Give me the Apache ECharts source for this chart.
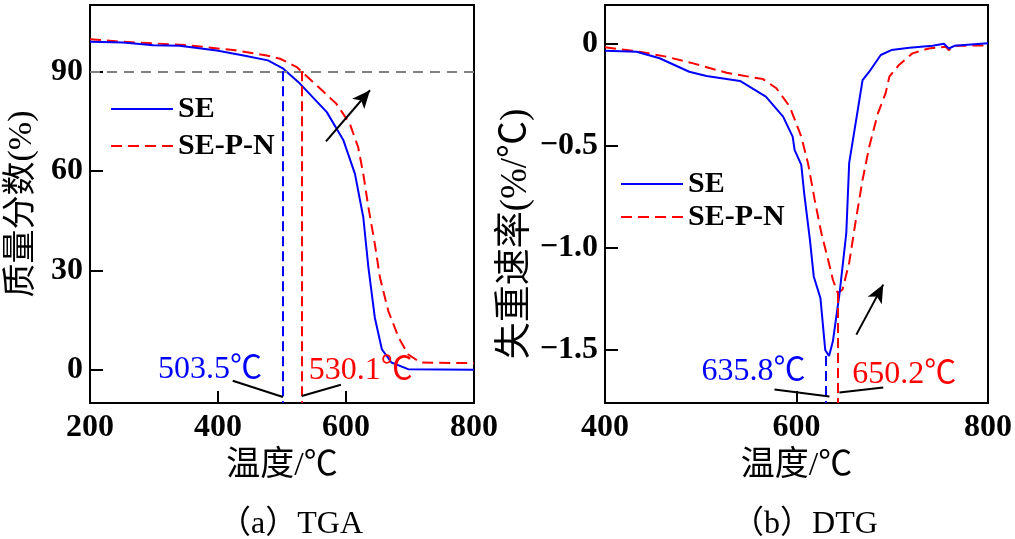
<!DOCTYPE html>
<html>
<head>
<meta charset="utf-8">
<script src="https://cdn.jsdelivr.net/npm/echarts@6/dist/echarts.min.js"></script>
<style>html,body{margin:0;padding:0;background:#fff}#c{width:1015px;height:539px}</style>
</head>
<body>
<div id="c"></div>
<script>
// ---- TGA (left) ----
const tgaSE = [[200,98.9],[252,98.7],[299,97.9],[340,97.7],[398,96.3],[440,94.8],[478,93.3],[502,90.8],[528,86.3],[570,77.7],[596,69.2],[614,59.1],[627,46.0],[635,30.9],[645,15.8],[656,6.2],[671,2.2],[697,0.2],[800,0]];
const tgaSEPN = [[200,99.7],[252,98.9],[351,97.9],[424,96.4],[476,94.8],[497,93.8],[523,91.3],[554,85.8],[585,80.2],[606,74.2],[619,67.1],[627,59.1],[635,49.0],[645,38.0],[653,27.9],[666,17.8],[682,9.8],[697,4.7],[716,2.2],[800,2.0]];
const tgaYTicks = [0,30,60,90];
const tgaXTicks = [200,400,600,800];
const tgaMarks = {se:501, sepn:530.6, level:90};
const tgaLabels = ['503.5℃','530.1℃'];

// ---- DTG (right) ----
const dtgSE = [[400,-0.034],[433,-0.039],[457,-0.071],[488,-0.137],[506,-0.158],[541,-0.182],[568,-0.259],[586,-0.357],[596,-0.455],[598,-0.52],[605,-0.593],[608,-0.732],[614,-0.96],[618,-1.14],[625,-1.246],[630,-1.5],[634,-1.53],[638,-1.458],[645,-1.221],[652,-0.928],[655,-0.585],[664,-0.324],[669,-0.178],[676,-0.137],[688,-0.055],[699,-0.031],[718,-0.02],[742,-0.01],[754,0],[759,-0.023],[765,-0.01],[800,0.002]];
const dtgSEPN = [[400,-0.017],[436,-0.039],[464,-0.063],[492,-0.096],[527,-0.142],[565,-0.173],[579,-0.218],[593,-0.308],[605,-0.455],[612,-0.585],[619,-0.765],[626,-0.928],[633,-1.058],[638,-1.156],[643,-1.221],[648,-1.205],[655,-1.074],[662,-0.863],[669,-0.667],[676,-0.504],[685,-0.341],[693,-0.243],[697,-0.161],[707,-0.104],[721,-0.047],[738,-0.023],[756,-0.015],[759,-0.031],[766,-0.01],[800,-0.008]];
const dtgYTicks = [0,-0.5,-1.0,-1.5];
const dtgXTicks = [400,600,800];
const dtgMarks = {se:[630.5,-1.53], sepn:[643.5,-1.221]};
const dtgLabels = ['635.8℃','650.2℃'];

const FONT = "'Liberation Serif','Noto Sans CJK SC',serif";
const BLUE = '#0000ff', RED = '#ff0000';

function yAxisBase(min, max, ticks, fmt, name, gap, pad, nsize){
  return {
    type:'value', min:min, max:max,
    splitLine:{show:false},
    axisLine:{show:true, onZero:false, lineStyle:{color:'#000', width:2}},
    axisTick:{show:true, inside:true, length:13, lineStyle:{color:'#000', width:2}, customValues:ticks},
    axisLabel:{customValues:ticks, formatter:fmt, color:'#000', fontFamily:FONT, fontSize:32, fontWeight:'bold', margin:7},
    name:name, nameLocation:'middle', nameRotate:90, nameGap:gap,
    nameTextStyle:{fontFamily:FONT, fontSize:nsize, color:'#000', padding:pad}
  };
}
function xAxisBase(min, max, ticks, gridIndex){
  return {
    type:'value', min:min, max:max, gridIndex:gridIndex,
    splitLine:{show:false},
    axisLine:{show:true, onZero:false, lineStyle:{color:'#000', width:2}},
    axisTick:{show:true, inside:true, length:12, lineStyle:{color:'#000', width:2}, customValues:ticks},
    axisLabel:{customValues:ticks, color:'#000', fontFamily:FONT, fontSize:32, fontWeight:'bold', margin:9},
    name:'温度/℃', nameLocation:'middle', nameGap:44,
    nameTextStyle:{fontFamily:FONT, fontSize:34, color:'#000'}
  };
}
function lab(text, coord, color){
  return {coord:coord, symbol:'circle', symbolSize:0, label:{show:true, position:'inside', formatter:text, color:color, fontFamily:FONT, fontSize:32}};
}
const legendCommon = {orient:'vertical', itemWidth:62, itemHeight:14, data:['SE','SE-P-N'],
  itemStyle:{opacity:0}, textStyle:{fontFamily:FONT, fontSize:30, fontWeight:'bold', color:'#000', lineHeight:30}};

const chart = echarts.init(document.getElementById('c'), null, {renderer:'canvas'});
chart.setOption({
  animation:false,
  backgroundColor:'#fff',
  grid:[
    {left:90, top:5, width:384, height:398, show:true, borderColor:'#000', borderWidth:2, containLabel:false},
    {left:605, top:5, width:384, height:398, show:true, borderColor:'#000', borderWidth:2, containLabel:false}
  ],
  xAxis:[ xAxisBase(200,800,tgaXTicks,0), xAxisBase(400,800,dtgXTicks,1) ],
  yAxis:[
    Object.assign(yAxisBase(-10,110,tgaYTicks,v=>String(v),'质量分数(%)',51,[0,0,0,0],34),{gridIndex:0}),
    Object.assign(yAxisBase(-1.76,0.19,dtgYTicks,v=> v===0?'0':'\u2212'+Math.abs(v).toFixed(1),'失重速率(%/℃)',70,[0,60,0,0],37),{gridIndex:1})
  ],
  legend:[
    Object.assign({left:105, top:89, itemGap:7}, legendCommon),
    Object.assign({left:615, top:164, itemGap:3}, legendCommon)
  ],
  series:[
    {name:'SE-P-N', type:'line', xAxisIndex:0, yAxisIndex:0, data:tgaSEPN, symbol:'none', smooth:false,
     lineStyle:{color:RED, width:2, type:[11,6]}, itemStyle:{color:RED},
     markLine:{symbol:['none','none'], silent:true, label:{show:false},
       data:[
         [{coord:[200,tgaMarks.level], lineStyle:{color:'#808080', type:[10,7], width:2}},{coord:[800,tgaMarks.level]}],
         [{coord:[tgaMarks.sepn,tgaMarks.level], lineStyle:{color:RED, type:[10,5], width:2}},{coord:[tgaMarks.sepn,-10]}],
         [{coord:[tgaMarks.se,tgaMarks.level], lineStyle:{color:BLUE, type:[10,5], width:2}},{coord:[tgaMarks.se,-10]}],
         [{coord:[423,-3.3], lineStyle:{color:'#000', type:'solid', width:2}},{coord:[501.5,-8.2]}],
         [{coord:[531,-7.9], lineStyle:{color:'#000', type:'solid', width:2}},{coord:[592,-4.5]}],
         [{coord:[568.7,68.9], symbol:'none', lineStyle:{color:'#000', type:'solid', width:2}},{coord:[637.5,84.3], symbol:'arrow', symbolSize:[12,18]}]
       ]},
     markPoint:{silent:true, data:[lab(tgaLabels[0],[387.5,0],BLUE), lab(tgaLabels[1],[623,-0.3],RED)]}
    },
    {name:'SE', type:'line', xAxisIndex:0, yAxisIndex:0, data:tgaSE, symbol:'none',
     lineStyle:{color:BLUE, width:2, type:'solid'}, itemStyle:{color:BLUE}},
    {name:'SE-P-N', type:'line', xAxisIndex:1, yAxisIndex:1, data:dtgSEPN, symbol:'none',
     lineStyle:{color:RED, width:2, type:[11,6]}, itemStyle:{color:RED},
     markLine:{symbol:['none','none'], silent:true, label:{show:false},
       data:[
         [{coord:dtgMarks.sepn, lineStyle:{color:RED, type:[10,5], width:2}},{coord:[dtgMarks.sepn[0],-1.76]}],
         [{coord:dtgMarks.se, lineStyle:{color:BLUE, type:[10,5], width:2}},{coord:[dtgMarks.se[0],-1.76]}],
         [{coord:[577,-1.694], lineStyle:{color:'#000', type:'solid', width:2}},{coord:[634.4,-1.728]}],
         [{coord:[644.8,-1.709], lineStyle:{color:'#000', type:'solid', width:2}},{coord:[690.6,-1.684]}],
         [{coord:[662.5,-1.425], symbol:'none', lineStyle:{color:'#000', type:'solid', width:2}},{coord:[690.6,-1.18], symbol:'arrow', symbolSize:[12,18]}]
       ]},
     markPoint:{silent:true, data:[lab(dtgLabels[0],[555,-1.606],BLUE), lab(dtgLabels[1],[712.5,-1.621],RED)]}
    },
    {name:'SE', type:'line', xAxisIndex:1, yAxisIndex:1, data:dtgSE, symbol:'none',
     lineStyle:{color:BLUE, width:2, type:'solid'}, itemStyle:{color:BLUE}}
  ],
  graphic:[
    {type:'text', x:291, y:525, style:{text:'（a）TGA', align:'center', verticalAlign:'middle', font:"32px 'Liberation Serif','Noto Sans CJK SC',serif", fill:'#000'}},
    {type:'text', x:805, y:525, style:{text:'（b）DTG', align:'center', verticalAlign:'middle', font:"32px 'Liberation Serif','Noto Sans CJK SC',serif", fill:'#000'}}
  ]
});
</script>
</body>
</html>
